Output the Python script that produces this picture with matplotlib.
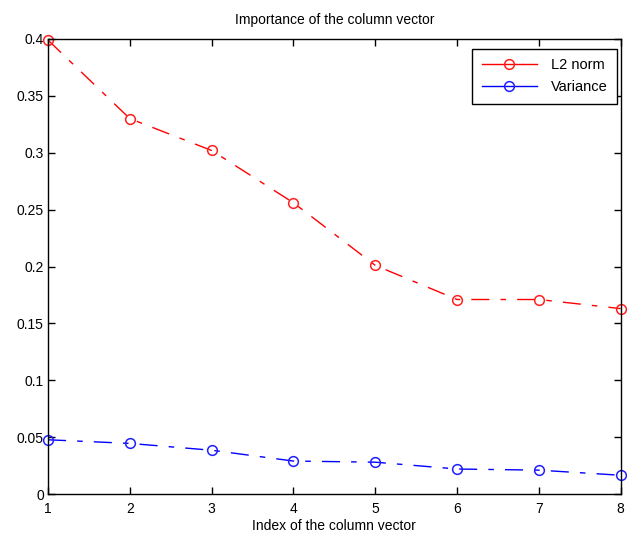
import matplotlib
matplotlib.use("Agg")
import matplotlib.pyplot as plt

plt.rcParams['font.family'] = ['Liberation Sans', 'DejaVu Sans']

index = [1, 2, 3, 4, 5, 6, 7, 8]
l2_norm = [0.399, 0.330, 0.302, 0.256, 0.201, 0.171, 0.171, 0.163]
variance = [0.0477, 0.0445, 0.0385, 0.0290, 0.0280, 0.0220, 0.0210, 0.0165]
yticks = [0, 0.05, 0.1, 0.15, 0.2, 0.25, 0.3, 0.35, 0.4]
ytick_labels = ['0', '0.05', '0.1', '0.15', '0.2', '0.25', '0.3', '0.35', '0.4']

fig = plt.figure(figsize=(6.27, 5.37), dpi=100)
ax = fig.add_axes([0.0766, 0.0800, 0.9134, 0.8474])

dash = (0, (13, 8, 4, 8))
ax.plot(index, l2_norm, color='#ff0000', linestyle=dash, marker='o',
        markerfacecolor='none', markeredgecolor='#ff2020', markersize=7,
        markeredgewidth=1.1, linewidth=1.0, label='L2 norm', clip_on=False)
ax.plot(index, variance, color='#0000ff', linestyle=dash, marker='o',
        markerfacecolor='none', markeredgecolor='#2020ff', markersize=7,
        markeredgewidth=1.1, linewidth=1.0, label='Variance', clip_on=False)

ax.set_xlim(1, 8)
ax.set_ylim(0, 0.4)
ax.set_xticks(index)
ax.set_yticks(yticks)
ax.set_yticklabels(ytick_labels)
ax.tick_params(direction='in', top=True, right=True, labelsize=10, length=5, width=1)
ax.tick_params(axis='x', pad=6)
ax.tick_params(axis='y', pad=3)
for s in ax.spines.values():
    s.set_linewidth(1)

ax.set_title('Importance of the column vector', fontsize=10, pad=11)
ax.set_xlabel('Index of the column vector', fontsize=10, labelpad=2)

leg = ax.legend(loc='upper right', bbox_to_anchor=(0.9936, 0.979),
                fontsize=10.5, frameon=True, fancybox=False,
                edgecolor='black', framealpha=1, borderpad=0.65, handlelength=3.8,
                labelspacing=0.55, handletextpad=0.95, borderaxespad=0.0)
leg.get_frame().set_linewidth(1.0)
for h in leg.get_lines():
    h.set_linestyle('-')

fig.savefig('out.png', dpi=100)
